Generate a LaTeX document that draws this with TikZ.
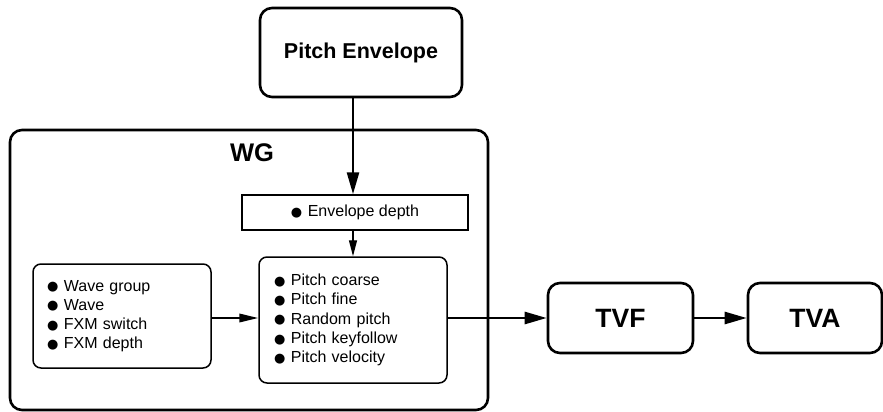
\documentclass[tikz,border=0pt]{standalone}
\usepackage{fontspec}
\setmainfont{Liberation Sans}
\newfontfamily\symfont{DejaVu Sans}
\usetikzlibrary{arrows.meta}
\newcommand{\bl}{\raisebox{0.3pt}{\symfont\fontsize{13}{13}\selectfont ●}\hspace{5.5pt}}
\begin{document}
\begin{tikzpicture}[x=1pt,y=-1pt,
  big/.style={draw,line width=2.6pt,rounded corners=12pt,inner sep=0pt,
    font=\fontsize{26.5}{26.5}\selectfont\bfseries},
  inbox/.style={draw,line width=1.5pt,rounded corners=8pt,inner ysep=0pt,
    align=left,font=\fontsize{16}{19.2}\selectfont},
  heavyarrow/.style={line width=2.6pt,-{Triangle[length=22pt,width=12pt]}},
  midarrow/.style={line width=2pt,-{Triangle[length=19pt,width=8.5pt]}},
  thinarrow/.style={line width=1.4pt,-{Triangle[length=16pt,width=8pt]}}]
\useasboundingbox (0,0) rectangle (883,412);
\node[big, minimum width=478pt, minimum height=280pt] (wg) at (249,270) {};
\node[font=\fontsize{25.5}{25.5}\selectfont\bfseries] (wgl) at (252,153) {WG};
\node[big, minimum width=202pt, minimum height=89pt,
  font=\fontsize{21.5}{21.5}\selectfont\bfseries] (pe) at (361,52.5) {Pitch Envelope};
\node[draw, line width=1.5pt, minimum width=226pt, minimum height=35pt,
  inner sep=0pt, font=\fontsize{16}{16}\selectfont] (ed) at (355,212.5) {\bl Envelope depth};
\node[inbox, minimum width=178pt, minimum height=104pt, inner xsep=14pt,
  text width=150pt] (wave) at (122,316)
  {\bl Wave group\\ \bl Wave\\ \bl FXM switch\\ \bl FXM depth};
\node[inbox, minimum width=188pt, minimum height=126pt, inner xsep=15pt,
  text width=158pt] (pitch) at (353,320)
  {\bl Pitch coarse\\ \bl Pitch fine\\ \bl Random pitch\\ \bl Pitch keyfollow\\ \bl Pitch velocity};
\node[big, minimum width=145pt, minimum height=70pt] (tvf) at (620.5,318) {TVF};
\node[big, minimum width=134pt, minimum height=70pt] (tva) at (815,318) {TVA};
\coordinate (xa) at (353,0);
\coordinate (ya) at (0,318);
\draw[heavyarrow] (xa |- pe.south) -- (xa |- ed.north);
\draw[thinarrow] (xa |- ed.south) -- (xa |- pitch.north);
\draw[midarrow] (wave.east |- ya) -- (pitch.west |- ya);
\draw[heavyarrow] (pitch.east |- ya) -- (tvf.west);
\draw[heavyarrow] (tvf.east) -- (tva.west);
\end{tikzpicture}
\end{document}
